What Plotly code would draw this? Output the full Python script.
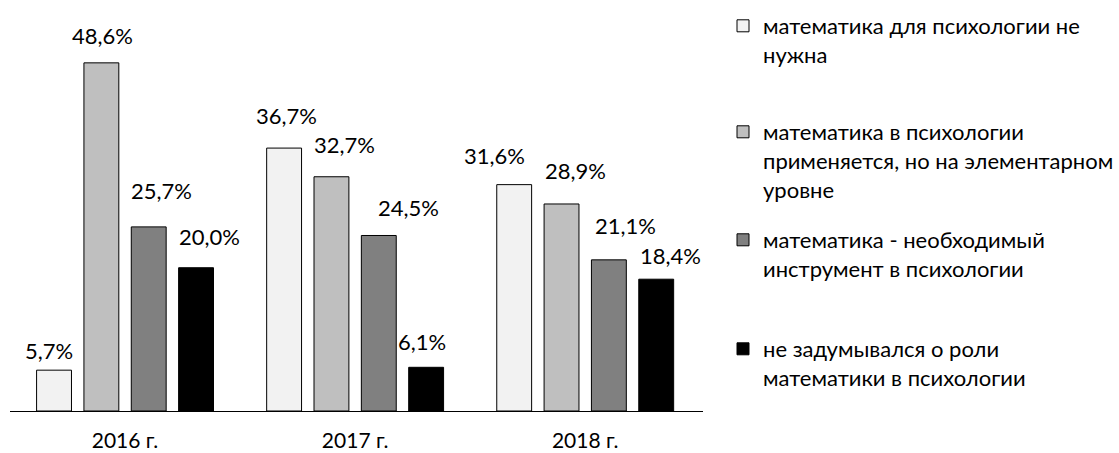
import plotly.graph_objects as go

years = ["2016 г.", "2017 г.", "2018 г."]
series_names = [
    "математика для психологии не<br>нужна",
    "математика в психологии<br>применяется, но на элементарном<br>уровне",
    "математика - необходимый<br>инструмент в психологии",
    "не задумывался о роли<br>математики в психологии",
]
values = [
    [5.7, 36.7, 31.6],
    [48.6, 32.7, 28.9],
    [25.7, 24.5, 21.1],
    [20.0, 6.1, 18.4],
]

# styling
colors = ["#f2f2f2", "#bfbfbf", "#808080", "#000000"]
FONT = "Lato"
W, H = 1119, 453
ML, MR, MT, MB = 10, 416, 17, 42
BARGAP, GROUPGAP = 0.177, 0.263
YMAX = 55
# per-label nudges (px) relative to bar centre / bar top: [series][year]
label_dx = [[-5, 3, -19], [1, 13, 14], [13, 30, 17], [13, -4, 14]]
label_dy = [[20, 33, 29], [27, 32, 33], [36, 28, 34], [31, 26, 24]]
legend_top = [5, 111, 219, 328]

fig = go.Figure()
for i, (name, vals) in enumerate(zip(series_names, values)):
    fig.add_trace(go.Bar(
        x=years, y=vals, name=name,
        marker=dict(color=colors[i], line=dict(color="#000000", width=1)),
        legend="legend" if i == 0 else f"legend{i+1}",
        hoverinfo="skip",
    ))

plot_w = W - ML - MR
cat_w = plot_w / len(years)
slot = (1 - BARGAP) * cat_w / len(values)
annotations = []
for i, vals in enumerate(values):
    for j, v in enumerate(vals):
        off = (i - (len(values) - 1) / 2) * slot
        annotations.append(dict(
            x=years[j], y=v, xref="x", yref="y",
            text=f"{v:.1f}%".replace(".", ","),
            showarrow=False, xanchor="center", yanchor="middle",
            xshift=off + label_dx[i][j], yshift=label_dy[i][j],
            font=dict(family=FONT, size=22, color="#000000"),
        ))

legends = {}
for i in range(len(values)):
    key = "legend" if i == 0 else f"legend{i+1}"
    legends[key] = dict(
        xref="container", yref="container",
        x=723 / W, y=1 - legend_top[i] / H, xanchor="left", yanchor="top",
        font=dict(family=FONT, size=22, color="#000000"),
        bgcolor="rgba(0,0,0,0)", borderwidth=0, valign="top",
        itemclick=False, itemdoubleclick=False,
    )

fig.update_layout(
    width=W, height=H,
    margin=dict(l=ML, r=MR, t=MT, b=MB, autoexpand=False),
    paper_bgcolor="white", plot_bgcolor="white",
    barmode="group", bargap=BARGAP, bargroupgap=GROUPGAP,
    font=dict(family=FONT, size=22, color="#000000"),
    xaxis=dict(showline=True, linecolor="#000000", linewidth=1, ticks="",
               showgrid=False, zeroline=False, ticklabelstandoff=11,
               automargin=False,
               tickfont=dict(family=FONT, size=21, color="#000000")),
    yaxis=dict(range=[0, YMAX], visible=False, showgrid=False, zeroline=False,
               automargin=False),
    annotations=annotations,
    showlegend=True,
    **legends,
)

fig.write_html(
    "out.html",
    config={"displayModeBar": False},
    post_script="document.body.style.margin='0';document.body.style.overflow='hidden';",
)
